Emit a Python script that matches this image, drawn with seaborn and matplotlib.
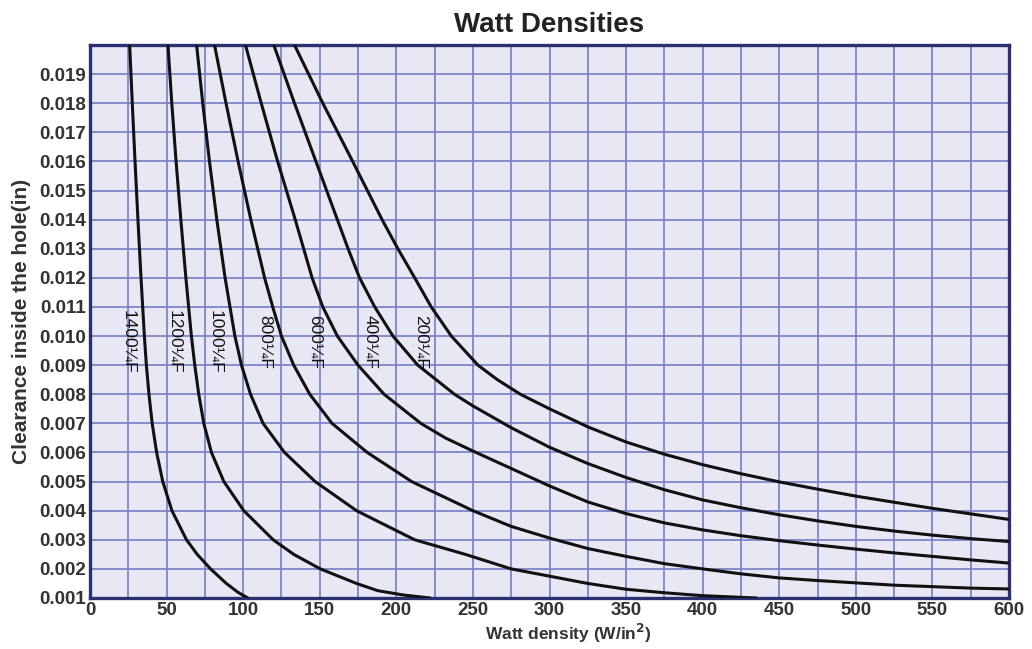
import pandas as pd
import seaborn as sns
import matplotlib.pyplot as plt
from matplotlib.ticker import MultipleLocator, FormatStrFormatter

# curves: watt density (x) vs clearance (y), one per sheath temp
temps = ["1400", "1200", "1000", "800", "600", "400", "200"]

watts_1400 = [25.9, 27.6, 29.4, 31.3, 33.3, 35.5, 36.8, 38.5, 40.6, 43.5, 47.5, 53.5, 63.0, 70.0, 78.7, 89.0, 96.5, 103.0]
clear_1400 = [0.020, 0.018, 0.016, 0.014, 0.012, 0.010, 0.009, 0.008, 0.007, 0.006, 0.005, 0.004, 0.003, 0.0025, 0.002, 0.0015, 0.0012, 0.001]

watts_1200 = [50.9, 53.4, 56.2, 59.3, 62.6, 66.2, 68.4, 71.0, 74.3, 79.3, 87.4, 100.4, 119.6, 133.0, 150.4, 174.0, 188.0, 205.0, 222.0]
clear_1200 = [0.020, 0.018, 0.016, 0.014, 0.012, 0.010, 0.009, 0.008, 0.007, 0.006, 0.005, 0.004, 0.003, 0.0025, 0.002, 0.0015, 0.00125, 0.0011, 0.001]

watts_1000 = [69.6, 73.6, 78.0, 82.8, 88.2, 94.6, 98.9, 104.8, 113.0, 127.0, 147.0, 174.0, 212.0, 245.0, 275.0, 300.0, 325.0, 350.0, 375.0, 400.0, 435.0]
clear_1000 = [0.020, 0.018, 0.016, 0.014, 0.012, 0.010, 0.009, 0.008, 0.007, 0.006, 0.005, 0.004, 0.003, 0.0025, 0.002, 0.00175, 0.0015, 0.0013, 0.00118, 0.00108, 0.001]

watts_800 = [81.3, 88.8, 96.7, 105.0, 114.0, 119.3, 125.0, 133.0, 143.5, 158.0, 181.0, 210.0, 250.0, 275.0, 300.0, 325.0, 350.0, 375.0, 400.0, 425.0, 450.0, 475.0, 500.0, 525.0, 550.0, 575.0, 600.0]
clear_800 = [0.020, 0.018, 0.016, 0.014, 0.012, 0.011, 0.010, 0.009, 0.008, 0.007, 0.006, 0.005, 0.004, 0.00346, 0.00306, 0.0027, 0.00243, 0.00218, 0.002, 0.00183, 0.00169, 0.0016, 0.00152, 0.00144, 0.00139, 0.00134, 0.00131]

watts_600 = [101.5, 111.8, 122.5, 134.0, 139.5, 145.0, 152.0, 161.5, 175.0, 192.0, 204.0, 216.0, 232.0, 250.0, 275.0, 300.0, 325.0, 350.0, 375.0, 400.0, 425.0, 450.0, 475.0, 500.0, 525.0, 550.0, 575.0, 600.0]
clear_600 = [0.020, 0.018, 0.016, 0.014, 0.013, 0.012, 0.011, 0.010, 0.009, 0.008, 0.0075, 0.0070, 0.0065, 0.00605, 0.00545, 0.00485, 0.0043, 0.0039, 0.00358, 0.00334, 0.00314, 0.00297, 0.00282, 0.00268, 0.00255, 0.00243, 0.00231, 0.0022]

watts_400 = [120.0, 133.5, 147.5, 161.5, 168.5, 176.0, 185.9, 197.8, 214.0, 238.0, 250.0, 275.0, 300.0, 325.0, 350.0, 375.0, 400.0, 425.0, 450.0, 475.0, 500.0, 525.0, 550.0, 575.0, 600.0]
clear_400 = [0.020, 0.018, 0.016, 0.014, 0.013, 0.012, 0.011, 0.010, 0.009, 0.008, 0.0076, 0.00685, 0.00618, 0.00562, 0.00514, 0.00472, 0.00437, 0.0041, 0.00386, 0.00365, 0.00346, 0.0033, 0.00316, 0.00304, 0.00294]

watts_200 = [133.5, 152.0, 171.5, 190.7, 201.0, 212.0, 222.8, 235.9, 253.3, 266.0, 281.0, 300.0, 325.0, 350.0, 375.0, 400.0, 425.0, 450.0, 475.0, 500.0, 525.0, 550.0, 575.0, 600.0]
clear_200 = [0.020, 0.018, 0.016, 0.014, 0.013, 0.012, 0.011, 0.010, 0.009, 0.0085, 0.008, 0.0075, 0.00688, 0.00636, 0.00594, 0.00558, 0.00527, 0.00499, 0.00474, 0.0045, 0.00429, 0.00408, 0.00389, 0.0037]

curves = {
    "1400": (watts_1400, clear_1400),
    "1200": (watts_1200, clear_1200),
    "1000": (watts_1000, clear_1000),
    "800": (watts_800, clear_800),
    "600": (watts_600, clear_600),
    "400": (watts_400, clear_400),
    "200": (watts_200, clear_200),
}

rows = {"watts": [], "clearance": [], "temp": []}
for t in temps:
    xs, ys = curves[t]
    rows["watts"] += xs
    rows["clearance"] += ys
    rows["temp"] += [t] * len(xs)
df = pd.DataFrame(rows)

sns.set_theme(style="darkgrid")
plt.rcParams["font.family"] = ["Liberation Sans", "DejaVu Sans"]

navy = "#2b3070"
grid_blue = "#7a82c8"

fig = plt.figure(figsize=(10.32, 6.49), dpi=100)
ax = fig.add_axes([90 / 1032, 1 - 598 / 649, (1009 - 90) / 1032, (598 - 45) / 649])
ax.set_facecolor("#e8e8f5")

sns.lineplot(data=df, x="watts", y="clearance", hue="temp",
             palette={t: "#111111" for t in temps}, estimator=None,
             linewidth=2.2, legend=False, ax=ax, zorder=3)

ax.set_xlim(0, 600)
ax.set_ylim(0.001, 0.020)
ax.xaxis.set_major_locator(MultipleLocator(50))
ax.xaxis.set_minor_locator(MultipleLocator(25))
ax.set_yticks([i / 1000 for i in range(1, 20)])
ax.yaxis.set_major_formatter(FormatStrFormatter("%.3f"))

ax.grid(which="both", color=grid_blue, linewidth=1.4, alpha=0.9)
ax.tick_params(which="both", length=0, pad=3)
ax.tick_params(axis="both", labelsize=13.5, labelcolor="#333333")
for lab in ax.get_xticklabels() + ax.get_yticklabels():
    lab.set_fontweight("bold")

for s in ax.spines.values():
    s.set_visible(True)
    s.set_color(navy)
    s.set_linewidth(2.4)

ax.set_title("Watt Densities", fontsize=20, fontweight="bold", color="#222222", pad=9)
ax.set_xlabel("Watt density (W/in$^\\mathbf{2}$)", fontsize=12.5, fontweight="bold",
              color="#333333")
ax.xaxis.set_label_coords(0.52, -0.043)
ax.set_ylabel("Clearance inside the hole(in)", fontsize=15, fontweight="bold",
              color="#333333", labelpad=6)

# rotated curve labels (the source shows the degree sign as ¼)
label_pos = {"1400": 25, "1200": 55, "1000": 82, "800": 114, "600": 147, "400": 183, "200": 216}
for t in temps:
    ax.text(label_pos[t], 0.0098, t + "¼F", rotation=-90, ha="center", va="center",
            fontsize=12.5, color="#111111", zorder=4)

fig.savefig("out.png", dpi=100)
